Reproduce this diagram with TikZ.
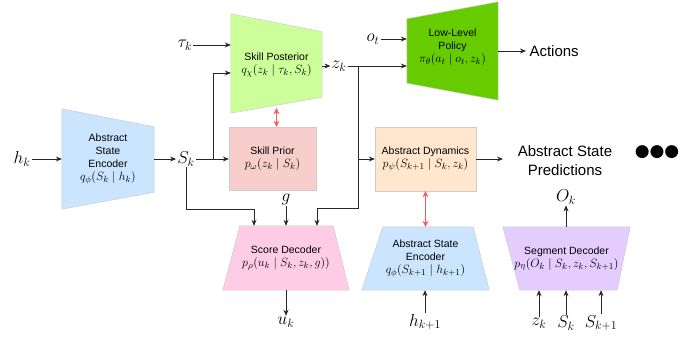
\documentclass[tikz,border=0pt]{standalone}
\usepackage{fontspec}
\setmainfont{Liberation Sans}
\newfontfamily\symfont{DejaVu Sans}
\usetikzlibrary{positioning, arrows.meta, backgrounds}

\definecolor{encblue}{HTML}{CCE5FF}
\definecolor{postgreen}{HTML}{CCFF99}
\definecolor{policygreen}{HTML}{66CC00}
\definecolor{priorred}{HTML}{F8CECC}
\definecolor{dynorange}{HTML}{FFE6CC}
\definecolor{scorepink}{HTML}{FFCCE6}
\definecolor{segpurple}{HTML}{E5CCFF}

\newcommand{\fml}[1]{{\fontsize{13}{13}\selectfont$#1$}}

\begin{document}
\begin{tikzpicture}[
  x=1pt, y=-1pt,
  frame/.style={inner sep=0pt, align=center, font=\fontsize{10.5}{13}\selectfont},
  var/.style={inner sep=1pt, font=\fontsize{17}{20}\selectfont},
  bigtxt/.style={align=center, font=\fontsize{15}{19}\selectfont},
  arr/.style={-{Stealth[length=6pt, width=5pt]}, line width=0.8pt, black!85},
  dbl/.style={{Stealth[length=6pt, width=6pt]}-{Stealth[length=6pt, width=6pt]}, line width=1pt, red!65},
  edge/.style={draw=black!20, line width=0.5pt}
]
\useasboundingbox (0,0) rectangle (694,337);

% -------------------------
% BLOCKS
% -------------------------

\node[frame, minimum width=92pt, minimum height=100pt] (absenc) at (108,159)
  {Abstract\\State\\Encoder\\\fml{q_\phi(S_k \mid h_k)}};
\node[frame, minimum width=91pt, minimum height=99pt] (post) at (276.5,65)
  {Skill Posterior\\\fml{q_\chi(z_k \mid \tau_k, S_k)}};
\node[frame, minimum width=87pt, minimum height=63pt] (prior) at (272.5,158.5)
  {Skill Prior\\\fml{p_\omega(z_k \mid S_k)}};
\node[frame, minimum width=91pt, minimum height=98pt] (policy) at (452.5,47)
  {Low-Level\\Policy\\\fml{\pi_\theta(a_t \mid o_t, z_k)}};
\node[frame, minimum width=101pt, minimum height=64pt] (dyn) at (425.5,159)
  {Abstract Dynamics\\\fml{p_\psi(S_{k+1} \mid S_k, z_k)}};
\node[frame, minimum width=126pt, minimum height=64pt] (score) at (286,258)
  {Score Decoder\\\fml{p_\rho(u_k \mid S_k, z_k, g))}};
\node[frame, minimum width=127pt, minimum height=63pt] (nextenc) at (425.5,258.5)
  {Abstract State\\Encoder\\\fml{q_\phi(S_{k+1} \mid h_{k+1})}};
\node[frame, minimum width=127pt, minimum height=63pt] (segdec) at (566.5,258.5)
  {Segment Decoder\\\fml{p_\eta(O_k \mid S_k, z_k, S_{k+1})}};

% shapes behind the text
\begin{scope}[on background layer]
\filldraw[edge, fill=encblue] (absenc.north west) -- ([yshift=-18pt]absenc.north east)
  -- ([yshift=17pt]absenc.south east) -- (absenc.south west) -- cycle;
\filldraw[edge, fill=postgreen] ([yshift=1.5pt]post.north west) -- ([yshift=-16.5pt]post.north east)
  -- ([yshift=17.5pt]post.south east) -- ([yshift=1.5pt]post.south west) -- cycle;
\filldraw[edge, fill=priorred] (prior.north west) rectangle (prior.south east);
\filldraw[edge, fill=policygreen] ([yshift=-21pt]policy.north west) -- ([yshift=-4pt]policy.north east)
  -- ([yshift=-4pt]policy.south east) -- ([yshift=13pt]policy.south west) -- cycle;
\filldraw[edge, fill=dynorange] (dyn.north west) rectangle (dyn.south east);
\filldraw[edge, fill=scorepink] ([xshift=17pt]score.north west) -- ([xshift=-16pt]score.north east)
  -- (score.south east) -- (score.south west) -- cycle;
\filldraw[edge, fill=encblue] ([xshift=21pt]nextenc.north west) -- ([xshift=-16pt]nextenc.north east)
  -- (nextenc.south east) -- (nextenc.south west) -- cycle;
\filldraw[edge, fill=segpurple] (segdec.north west) -- (segdec.north east)
  -- ([xshift=-13pt]segdec.south east) -- ([xshift=17pt]segdec.south west) -- cycle;
\end{scope}

% -------------------------
% LABELS
% -------------------------

\node[var] (hk) at (22,159) {$h_k$};
\node[var] (sk) at (186,159) {$S_k$};
\node[var] (tauk) at (185,45) {$\tau_k$};
\node[var] (zk) at (339,66) {$z_k$};
\node[var] (ot) at (373,39) {$o_t$};
\node[bigtxt, anchor=west] (act) at (526,51) {Actions};
\node[var] (g) at (286,199) {$g$};
\node[var] (uk) at (286,322) {$u_k$};
\node[var] (hk1) at (425,322) {$h_{k+1}$};
\node[var] (ok) at (566,197) {$O_k$};
\node[var] (zkb) at (539,323) {$z_k$};
\node[var] (skb) at (566,323) {$S_k$};
\node[var] (skb1) at (601,323) {$S_{k+1}$};
\node[bigtxt] (pred) at (565,161) {Abstract State\\Predictions};
\node[font=\symfont\fontsize{17}{17}\selectfont] (dots) at (657,152) {●●●};

% -------------------------
% CONNECTORS
% -------------------------

\coordinate (skjoin) at (213,159);
\coordinate (skturn) at (254,209);
\coordinate (zjoin) at (358,66);
\coordinate (zturn) at (317,208);
\coordinate (predin) at (503,159);

\draw[arr] (hk) -- (absenc);
\draw[arr] (absenc) -- (sk);
\draw[arr] (tauk) -- (tauk -| post.west);
\draw[arr] (sk) -- (skjoin) |- ([yshift=-8pt]post.west);
\draw[arr] (skjoin) -- (skjoin -| prior.west);
\draw[arr] (sk.south) |- (skturn) -- (skturn |- score.north);
\draw[arr] (post.east |- zk) -- (zk);
\draw[arr] (zk.east) -- (zjoin -| policy.west);
\draw[arr] (ot) -- (ot -| policy.west);
\draw[arr] (zjoin) |- (zturn) -- (zturn |- score.north);
\draw[arr] (zjoin |- dyn.west) -- (dyn.west);
\draw[arr] (policy.east |- act.west) -- (act.west);
\draw[arr] (dyn.east) -- (predin);
\draw[arr] (g) -- (g |- score.north);
\draw[arr] (score.south) -- (uk);
\draw[arr] (hk1) -- (hk1 |- nextenc.south);
\draw[arr] (segdec.north -| ok) -- (ok);
\draw[arr] (zkb) -- (zkb |- segdec.south);
\draw[arr] (skb) -- (skb |- segdec.south);
\draw[arr] (skb1) -- (skb1 |- segdec.south);

% red links between matched blocks
\draw[dbl] ([yshift=6.5pt]post.south) -- (post.south |- prior.north);
\draw[dbl] (dyn.south) -- (dyn.south |- nextenc.north);

\end{tikzpicture}
\end{document}
